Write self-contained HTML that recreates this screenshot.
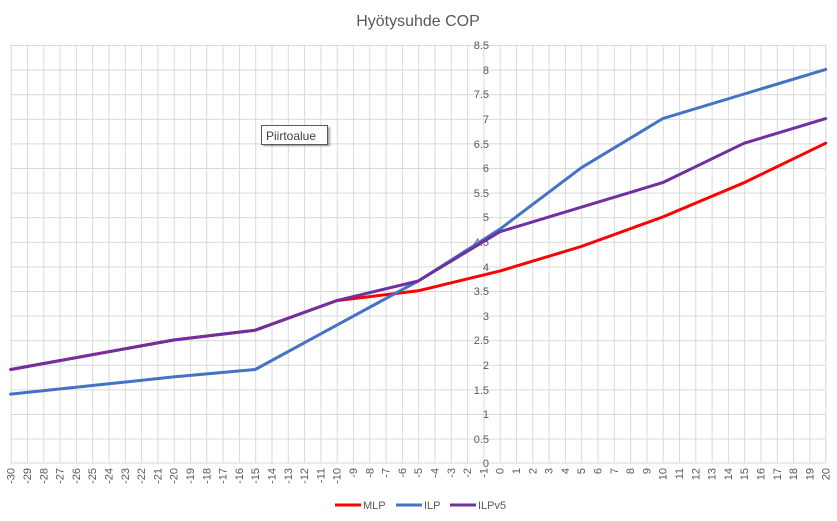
<!DOCTYPE html>
<html><head><meta charset="utf-8"><style>
html,body{margin:0;padding:0;background:#fff;}
svg{display:block;font-family:"Liberation Sans",sans-serif;}
</style></head><body>
<svg width="837" height="521" viewBox="0 0 837 521" xmlns="http://www.w3.org/2000/svg">
<defs>
<pattern id="g" x="10.7" y="45" width="16.3" height="24.6" patternUnits="userSpaceOnUse">
<path d="M0.5 0 V24.6 M0 0.5 H16.3" stroke="#d9d9d9" stroke-width="1" fill="none"/>
</pattern>
<filter id="sh"><feDropShadow dx="2" dy="2" stdDeviation="1" flood-color="#000" flood-opacity="0.35"/></filter>
</defs>
<rect x="0" y="0" width="837" height="521" fill="#fff"/>
<text x="418" y="26" font-size="16" fill="#595959" text-anchor="middle">Hyötysuhde COP</text>
<rect x="10.2" y="44.5" width="816" height="418.5" fill="url(#g)"/>
<line x1="10.7" y1="463" x2="825.7" y2="463" stroke="#d9d9d9"/>
<line x1="825.7" y1="45" x2="825.7" y2="463" stroke="#d9d9d9"/>
<g font-size="11" fill="#595959" text-anchor="end">
<text x="489" y="49">8.5</text><text x="489" y="74">8</text><text x="489" y="98">7.5</text><text x="489" y="123">7</text><text x="489" y="148">6.5</text><text x="489" y="172">6</text><text x="489" y="197">5.5</text><text x="489" y="221">5</text><text x="489" y="246">4.5</text><text x="489" y="271">4</text><text x="489" y="295">3.5</text><text x="489" y="320">3</text><text x="489" y="344">2.5</text><text x="489" y="369">2</text><text x="489" y="394">1.5</text><text x="489" y="418">1</text><text x="489" y="443">0.5</text><text x="489" y="467">0</text>
</g>
<g font-size="11" fill="#595959" text-anchor="end" id="xl">
<text transform="translate(14.7,468) rotate(-90)">-30</text>
<text transform="translate(31,468) rotate(-90)">-29</text>
<text transform="translate(47.3,468) rotate(-90)">-28</text>
<text transform="translate(63.6,468) rotate(-90)">-27</text>
<text transform="translate(79.9,468) rotate(-90)">-26</text>
<text transform="translate(96.2,468) rotate(-90)">-25</text>
<text transform="translate(112.5,468) rotate(-90)">-24</text>
<text transform="translate(128.8,468) rotate(-90)">-23</text>
<text transform="translate(145.1,468) rotate(-90)">-22</text>
<text transform="translate(161.4,468) rotate(-90)">-21</text>
<text transform="translate(177.7,468) rotate(-90)">-20</text>
<text transform="translate(194,468) rotate(-90)">-19</text>
<text transform="translate(210.3,468) rotate(-90)">-18</text>
<text transform="translate(226.6,468) rotate(-90)">-17</text>
<text transform="translate(242.9,468) rotate(-90)">-16</text>
<text transform="translate(259.2,468) rotate(-90)">-15</text>
<text transform="translate(275.5,468) rotate(-90)">-14</text>
<text transform="translate(291.8,468) rotate(-90)">-13</text>
<text transform="translate(308.1,468) rotate(-90)">-12</text>
<text transform="translate(324.4,468) rotate(-90)">-11</text>
<text transform="translate(340.7,468) rotate(-90)">-10</text>
<text transform="translate(357,468) rotate(-90)">-9</text>
<text transform="translate(373.3,468) rotate(-90)">-8</text>
<text transform="translate(389.6,468) rotate(-90)">-7</text>
<text transform="translate(405.9,468) rotate(-90)">-6</text>
<text transform="translate(422.2,468) rotate(-90)">-5</text>
<text transform="translate(438.5,468) rotate(-90)">-4</text>
<text transform="translate(454.8,468) rotate(-90)">-3</text>
<text transform="translate(471.1,468) rotate(-90)">-2</text>
<text transform="translate(487.4,468) rotate(-90)">-1</text>
<text transform="translate(503.7,468) rotate(-90)">0</text>
<text transform="translate(520,468) rotate(-90)">1</text>
<text transform="translate(536.3,468) rotate(-90)">2</text>
<text transform="translate(552.6,468) rotate(-90)">3</text>
<text transform="translate(568.9,468) rotate(-90)">4</text>
<text transform="translate(585.2,468) rotate(-90)">5</text>
<text transform="translate(601.5,468) rotate(-90)">6</text>
<text transform="translate(617.8,468) rotate(-90)">7</text>
<text transform="translate(634.1,468) rotate(-90)">8</text>
<text transform="translate(650.4,468) rotate(-90)">9</text>
<text transform="translate(666.7,468) rotate(-90)">10</text>
<text transform="translate(683,468) rotate(-90)">11</text>
<text transform="translate(699.3,468) rotate(-90)">12</text>
<text transform="translate(715.6,468) rotate(-90)">13</text>
<text transform="translate(731.9,468) rotate(-90)">14</text>
<text transform="translate(748.2,468) rotate(-90)">15</text>
<text transform="translate(764.5,468) rotate(-90)">16</text>
<text transform="translate(780.8,468) rotate(-90)">17</text>
<text transform="translate(797.1,468) rotate(-90)">18</text>
<text transform="translate(813.4,468) rotate(-90)">19</text>
<text transform="translate(829.7,468) rotate(-90)">20</text>
</g>
<g fill="none" stroke-width="3" stroke-linejoin="round" stroke-linecap="round">
<polyline stroke="#ff0000" points="10.7,369.5 173.7,340 255.2,330.2 336.7,300.6 418.2,290.8 499.7,271.1 581.2,246.5 662.7,217 744.2,182.6 825.7,143.2"/>
<polyline stroke="#4472c4" points="10.7,394.1 173.7,376.9 255.2,369.5 336.7,325.2 418.2,281 499.7,229.3 581.2,167.8 662.7,118.6 744.2,94 825.7,69.4"/>
<polyline stroke="#7030a0" points="10.7,369.5 173.7,340 255.2,330.2 336.7,300.6 418.2,281 499.7,231.8 581.2,207.2 662.7,182.6 744.2,143.2 825.7,118.6"/>
</g>
<rect x="261.5" y="125.5" width="66" height="19" fill="#fff" stroke="#595959" filter="url(#sh)"/>
<text x="266" y="140" font-size="12" fill="#404040">Piirtoalue</text>
<g font-size="11" fill="#595959">
<line x1="335" y1="505" x2="361" y2="505" stroke="#ff0000" stroke-width="3"/><text x="363" y="509">MLP</text>
<line x1="396" y1="505" x2="422" y2="505" stroke="#4472c4" stroke-width="3"/><text x="424" y="509">ILP</text>
<line x1="450" y1="505" x2="476" y2="505" stroke="#7030a0" stroke-width="3"/><text x="478" y="509">ILPv5</text>
</g>
</svg>
</body></html>
